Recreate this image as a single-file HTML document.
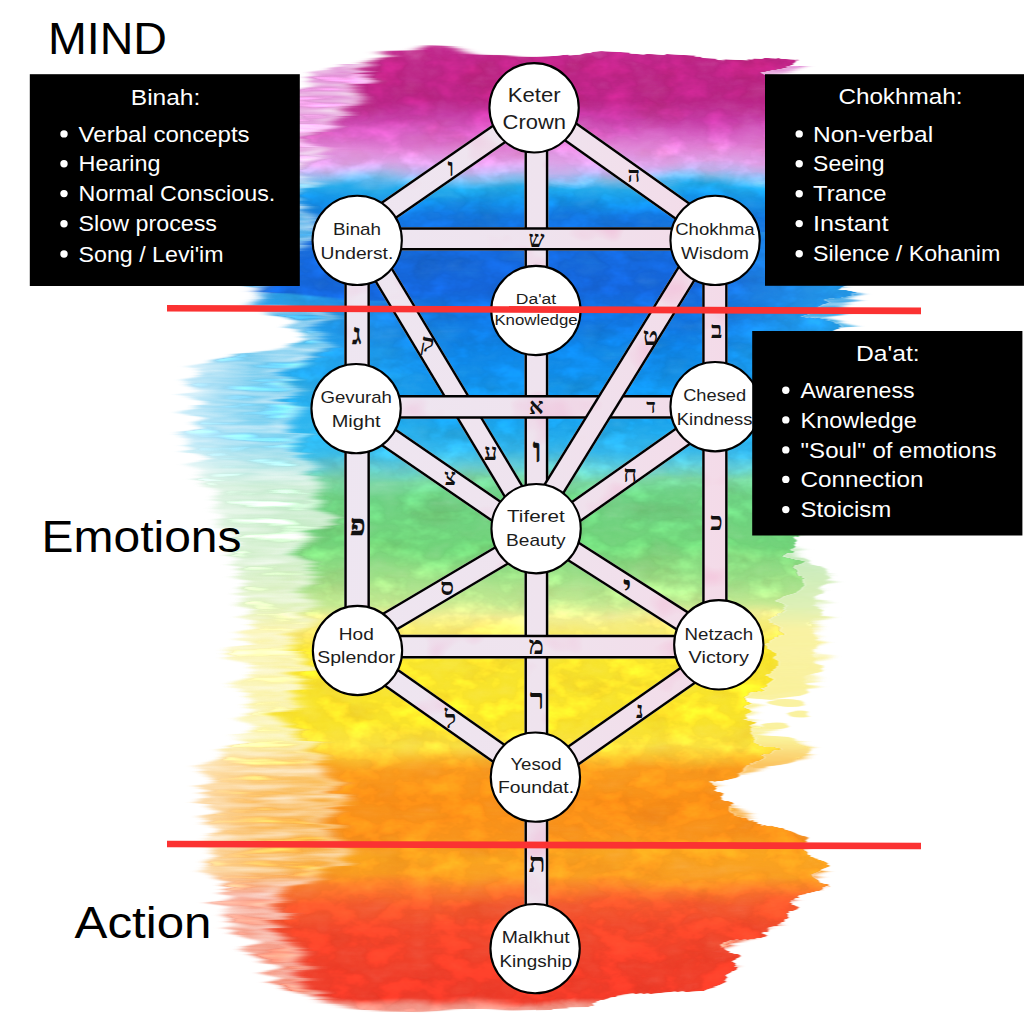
<!DOCTYPE html>
<html><head><meta charset="utf-8"><title>Tree of Life</title>
<style>
html,body{margin:0;padding:0;background:#fff;}
body{width:1024px;height:1024px;overflow:hidden;position:relative;font-family:"Liberation Sans", sans-serif;}
svg{position:absolute;left:0;top:0;display:block}
.sans{font-family:"Liberation Sans", sans-serif;}
.heb{font-family:"Liberation Serif", serif;font-weight:bold;fill:#111;stroke:#111;}
</style></head><body>
<svg width="1024" height="1024" viewBox="0 0 1024 1024">
<defs>

<linearGradient id="rb" gradientUnits="userSpaceOnUse" x1="0" y1="40" x2="0" y2="1012"><stop offset="0.0000" stop-color="#c42a92"/><stop offset="0.0309" stop-color="#bb2384"/><stop offset="0.0617" stop-color="#b92486"/><stop offset="0.0782" stop-color="#c43aa4"/><stop offset="0.0947" stop-color="#d45cc0"/><stop offset="0.1132" stop-color="#e087d8"/><stop offset="0.1265" stop-color="#dba0e6"/><stop offset="0.1358" stop-color="#bdb0ec"/><stop offset="0.1440" stop-color="#78bcee"/><stop offset="0.1523" stop-color="#1fa8ea"/><stop offset="0.1656" stop-color="#1290e6"/><stop offset="0.1811" stop-color="#1278e0"/><stop offset="0.2058" stop-color="#1468da"/><stop offset="0.2572" stop-color="#1464d8"/><stop offset="0.2860" stop-color="#1174e0"/><stop offset="0.3189" stop-color="#0e84e6"/><stop offset="0.3652" stop-color="#1294ea"/><stop offset="0.3992" stop-color="#1ca6ec"/><stop offset="0.4218" stop-color="#33b5ea"/><stop offset="0.4383" stop-color="#5fcbd6"/><stop offset="0.4527" stop-color="#78d4a0"/><stop offset="0.4691" stop-color="#6cd082"/><stop offset="0.5195" stop-color="#70d278"/><stop offset="0.5607" stop-color="#a4e088"/><stop offset="0.5802" stop-color="#c4e890"/><stop offset="0.5926" stop-color="#f0ee92"/><stop offset="0.6111" stop-color="#f8ea68"/><stop offset="0.6296" stop-color="#f7e42c"/><stop offset="0.7037" stop-color="#f8e228"/><stop offset="0.7243" stop-color="#f9e03e"/><stop offset="0.7377" stop-color="#f9bc2c"/><stop offset="0.7500" stop-color="#f99a1c"/><stop offset="0.7819" stop-color="#f88e16"/><stop offset="0.8210" stop-color="#f8921a"/><stop offset="0.8395" stop-color="#f9a41e"/><stop offset="0.8601" stop-color="#f99c20"/><stop offset="0.8745" stop-color="#f7782a"/><stop offset="0.8889" stop-color="#f3582c"/><stop offset="0.9105" stop-color="#f1482a"/><stop offset="0.9516" stop-color="#ef3e28"/><stop offset="0.9856" stop-color="#ee3a28"/><stop offset="0.9918" stop-color="#f2897a"/><stop offset="1.0000" stop-color="#f6b5a8"/></linearGradient>
<linearGradient id="rbh" gradientUnits="userSpaceOnUse" x1="0" y1="40" x2="0" y2="1012"><stop offset="0.0000" stop-color="#e08ed4"/><stop offset="0.1132" stop-color="#e6a0de"/><stop offset="0.1358" stop-color="#d6c0ee"/><stop offset="0.1502" stop-color="#7fcdf0"/><stop offset="0.1800" stop-color="#49ace8"/><stop offset="0.2675" stop-color="#3aa4e6"/><stop offset="0.3035" stop-color="#4ebaea"/><stop offset="0.4115" stop-color="#66caee"/><stop offset="0.4383" stop-color="#a8e2e2"/><stop offset="0.4588" stop-color="#c0e9cc"/><stop offset="0.5350" stop-color="#c8ebbe"/><stop offset="0.5823" stop-color="#dcf0b4"/><stop offset="0.6070" stop-color="#f9f2a2"/><stop offset="0.7202" stop-color="#faf096"/><stop offset="0.7459" stop-color="#fbc460"/><stop offset="0.7819" stop-color="#f9b044"/><stop offset="0.8539" stop-color="#f9ae42"/><stop offset="0.8796" stop-color="#f4876a"/><stop offset="0.9877" stop-color="#f27e66"/></linearGradient>
<linearGradient id="tl" gradientUnits="userSpaceOnUse" x1="290" y1="0" x2="450" y2="0"><stop offset="0" stop-color="#35c0f0" stop-opacity="0.6"/><stop offset="1" stop-color="#35c0f0" stop-opacity="0"/></linearGradient>
<linearGradient id="tr" gradientUnits="userSpaceOnUse" x1="690" y1="0" x2="860" y2="0"><stop offset="0" stop-color="#2cb4f0" stop-opacity="0"/><stop offset="1" stop-color="#2cb4f0" stop-opacity="0.7"/></linearGradient>
<clipPath id="cm"><polygon points="364,61 380,52 435,43 470,49 495,54 530,57 560,56 600,52 640,54 670,56 720,59 770,61 805,63 792,68 772,74 800,100 810,150 820,200 835,250 850,286 854,291 832,298 828,304 810,312 812,318 845,325 830,332 800,336 800,400 800,500 795,536 790,548 786,556 796,566 800,578 790,592 780,610 774,640 774,672 768,688 746,698 748,722 762,736 775,748 768,762 714,780 722,800 733,812 759,821 800,838 812,850 824,878 806,898 794,910 780,923 726,947 739,966 724,980 700,988 650,993 600,999 596,1007 500,1009 408,1009 350,1008 316,1004 304,988 292,960 280,940 270,920 276,897 300,884 330,866 338,842 338,800 332,772 304,757 288,720 290,680 294,640 302,600 310,550 314,500 310,470 292,440 284,400 284,366 316,346 320,316 250,304 246,291 256,284 300,250 300,186 300,130 342,124 354,96"/></clipPath>
<linearGradient id="hmg" gradientUnits="userSpaceOnUse" x1="180" y1="0" x2="310" y2="0"><stop offset="0" stop-color="#fff" stop-opacity="0.35"/><stop offset="0.55" stop-color="#fff" stop-opacity="0.8"/><stop offset="1" stop-color="#fff" stop-opacity="1"/></linearGradient>
<mask id="hm" maskUnits="userSpaceOnUse" x="0" y="0" width="1024" height="1024"><rect x="0" y="0" width="1024" height="1024" fill="url(#hmg)"/></mask>
<clipPath id="cl"><rect x="0" y="0" width="536" height="1024"/></clipPath>
<clipPath id="cr"><rect x="536" y="0" width="488" height="1024"/></clipPath>
<filter id="wcR" x="0" y="0" width="1024" height="1024" filterUnits="userSpaceOnUse" color-interpolation-filters="sRGB">
 <feTurbulence type="fractalNoise" baseFrequency="0.007 0.1" numOctaves="3" seed="7" result="n0"/><feColorMatrix in="n0" type="matrix" values="1 0 0 0 0  0 0 0 0 0.5  0 0 0 0 0.5  0 0 0 0 1" result="n"/>
 <feDisplacementMap in="SourceGraphic" in2="n" scale="40" xChannelSelector="R" yChannelSelector="G" result="d"/>
 <feTurbulence type="fractalNoise" baseFrequency="0.012 0.03" numOctaves="3" seed="11" result="m0"/>
 <feColorMatrix in="m0" type="matrix" values="0 0 0 0 0.5  0 1 0 0 0  0 0 0 0 0.5  0 0 0 0 1" result="m"/>
 <feDisplacementMap in="d" in2="m" scale="16" xChannelSelector="R" yChannelSelector="G" result="d2"/>
 <feGaussianBlur in="d2" stdDeviation="0.9 0.5" result="d3"/>
 <feTurbulence type="fractalNoise" baseFrequency="0.022 0.04" numOctaves="4" seed="21" result="g0"/>
 <feColorMatrix in="g0" type="matrix" values="0.08 0 0 0 0.96  0.2 0 0 0 0.9  0.24 0 0 0 0.88  0 0 0 0 1" result="g"/>
 <feBlend in="d3" in2="g" mode="multiply" result="mu"/>
 <feComposite in="mu" in2="d3" operator="in" result="d4"/>
 <feTurbulence type="fractalNoise" baseFrequency="0.03 0.05" numOctaves="4" seed="5" result="t0"/>
 <feColorMatrix in="t0" type="matrix" values="0 0 0 0 1  0 0 0 0 1  0 0 0 0 1  1 0 0 0 0" result="t"/>
 <feComposite in="d4" in2="t" operator="arithmetic" k1="0.42" k2="0.80" k3="0" k4="0"/>
</filter>
<filter id="wcL" x="0" y="0" width="1024" height="1024" filterUnits="userSpaceOnUse" color-interpolation-filters="sRGB">
 <feTurbulence type="fractalNoise" baseFrequency="0.005 0.11" numOctaves="3" seed="19" result="n0"/><feColorMatrix in="n0" type="matrix" values="1 0 0 0 0  0 0 0 0 0.5  0 0 0 0 0.5  0 0 0 0 1" result="n"/>
 <feDisplacementMap in="SourceGraphic" in2="n" scale="70" xChannelSelector="R" yChannelSelector="G" result="d"/>
 <feTurbulence type="fractalNoise" baseFrequency="0.012 0.03" numOctaves="3" seed="11" result="m0"/>
 <feColorMatrix in="m0" type="matrix" values="0 0 0 0 0.5  0 1 0 0 0  0 0 0 0 0.5  0 0 0 0 1" result="m"/>
 <feDisplacementMap in="d" in2="m" scale="16" xChannelSelector="R" yChannelSelector="G" result="d2"/>
 <feGaussianBlur in="d2" stdDeviation="9 0.5" result="d3"/>
 <feTurbulence type="fractalNoise" baseFrequency="0.022 0.04" numOctaves="4" seed="21" result="g0"/>
 <feColorMatrix in="g0" type="matrix" values="0.08 0 0 0 0.96  0.2 0 0 0 0.9  0.24 0 0 0 0.88  0 0 0 0 1" result="g"/>
 <feBlend in="d3" in2="g" mode="multiply" result="mu"/>
 <feComposite in="mu" in2="d3" operator="in" result="d4"/>
 <feTurbulence type="fractalNoise" baseFrequency="0.03 0.05" numOctaves="4" seed="5" result="t0"/>
 <feColorMatrix in="t0" type="matrix" values="0 0 0 0 1  0 0 0 0 1  0 0 0 0 1  1 0 0 0 0" result="t"/>
 <feComposite in="d4" in2="t" operator="arithmetic" k1="0.42" k2="0.80" k3="0" k4="0"/>
</filter>
<filter id="wchr" x="0" y="0" width="1024" height="1024" filterUnits="userSpaceOnUse" color-interpolation-filters="sRGB">
 <feTurbulence type="fractalNoise" baseFrequency="0.008 0.12" numOctaves="3" seed="41" result="n0"/><feColorMatrix in="n0" type="matrix" values="1 0 0 0 0  0 0 0 0 0.5  0 0 0 0 0.5  0 0 0 0 1" result="n"/>
 <feDisplacementMap in="SourceGraphic" in2="n" scale="30" xChannelSelector="R" yChannelSelector="G" result="d"/>
 <feGaussianBlur in="d" stdDeviation="1.6 0.6"/>
</filter>
<filter id="wch" x="0" y="0" width="1024" height="1024" filterUnits="userSpaceOnUse" color-interpolation-filters="sRGB">
 <feTurbulence type="fractalNoise" baseFrequency="0.006 0.13" numOctaves="3" seed="23" result="n0"/><feColorMatrix in="n0" type="matrix" values="1 0 0 0 0  0 0 0 0 0.5  0 0 0 0 0.5  0 0 0 0 1" result="n"/>
 <feDisplacementMap in="SourceGraphic" in2="n" scale="56" xChannelSelector="R" yChannelSelector="G" result="d"/>
 <feGaussianBlur in="d" stdDeviation="5 0.5" result="d3"/>
 <feTurbulence type="fractalNoise" baseFrequency="0.012 0.12" numOctaves="3" seed="31" result="t0"/>
 <feColorMatrix in="t0" type="matrix" values="0 0 0 0 1  0 0 0 0 1  0 0 0 0 1  1 0 0 0 0" result="t"/>
 <feComposite in="d3" in2="t" operator="arithmetic" k1="1.5" k2="0.15" k3="0" k4="0"/>
</filter>

<filter id="blotch" x="330" y="90" width="420" height="880" filterUnits="userSpaceOnUse" color-interpolation-filters="sRGB">
<feTurbulence type="fractalNoise" baseFrequency="0.014 0.018" numOctaves="3" seed="9" result="b0"/>
<feColorMatrix in="b0" type="matrix" values="0 0 0 0 1  -0.45 0 0 0 1.27  -0.22 0 0 0 1.13  0 0 0 0 1" result="b1"/>
<feComposite in="b1" in2="SourceGraphic" operator="in" result="b2"/>
<feBlend in="SourceGraphic" in2="b2" mode="multiply"/>
</filter>
<linearGradient id="pf" gradientUnits="userSpaceOnUse" x1="340" y1="0" x2="740" y2="0">
<stop offset="0" stop-color="#eee6f1"/><stop offset="0.5" stop-color="#efe3ee"/><stop offset="1" stop-color="#f4dae8"/>
</linearGradient>
</defs>
<rect width="1024" height="1024" fill="#fff"/>

<g mask="url(#hm)"><g filter="url(#wch)"><polygon points="345,64 800,66 770,76 840,250 850,292 840,326 800,336 800,530 795,540 800,560 828,574 826,582 818,596 816,640 820,672 808,688 770,694 750,700 752,724 780,738 813,748 800,760 760,768 714,780 715,800 750,822 790,840 815,878 770,925 720,950 720,980 600,998 320,1000 292,990 240,944 214,885 208,850 208,800 208,768 236,744 244,700 238,650 248,602 234,560 226,520 204,480 192,440 192,372 236,354 296,347 302,320 262,311 254,290 285,180 285,100 310,75" fill="url(#rbh)"/></g></g>
<g filter="url(#wchr)" fill="url(#rbh)" opacity="0.92"><polygon points="750,556 800,558 826,572 828,580 814,594 812,640 818,672 808,688 802,696 770,700 750,698"/><ellipse cx="786" cy="703" rx="20" ry="4"/><ellipse cx="796" cy="714" rx="11" ry="3.5"/><ellipse cx="778" cy="726" rx="14" ry="3.5"/><polygon points="750,735 780,737 814,747 802,759 760,768 750,768"/></g>
<g clip-path="url(#cl)"><g filter="url(#wcL)"><polygon points="364,61 380,52 435,43 470,49 495,54 530,57 560,56 600,52 640,54 670,56 720,59 770,61 805,63 792,68 772,74 800,100 810,150 820,200 835,250 850,286 854,291 832,298 828,304 810,312 812,318 845,325 830,332 800,336 800,400 800,500 795,536 790,548 786,556 796,566 800,578 790,592 780,610 774,640 774,672 768,688 746,698 748,722 762,736 775,748 768,762 714,780 722,800 733,812 759,821 800,838 812,850 824,878 806,898 794,910 780,923 726,947 739,966 724,980 700,988 650,993 600,999 596,1007 500,1009 408,1009 350,1008 316,1004 304,988 292,960 280,940 270,920 276,897 300,884 330,866 338,842 338,800 332,772 304,757 288,720 290,680 294,640 302,600 310,550 314,500 310,470 292,440 284,400 284,366 316,346 320,316 250,304 246,291 256,284 300,250 300,186 300,130 342,124 354,96" fill="url(#rb)"/><g clip-path="url(#cm)"><polygon points="250,296 450,300 450,462 250,456" fill="url(#tl)"/></g></g></g>
<g clip-path="url(#cr)"><g filter="url(#wcR)"><polygon points="364,61 380,52 435,43 470,49 495,54 530,57 560,56 600,52 640,54 670,56 720,59 770,61 805,63 792,68 772,74 800,100 810,150 820,200 835,250 850,286 854,291 832,298 828,304 810,312 812,318 845,325 830,332 800,336 800,400 800,500 795,536 790,548 786,556 796,566 800,578 790,592 780,610 774,640 774,672 768,688 746,698 748,722 762,736 775,748 768,762 714,780 722,800 733,812 759,821 800,838 812,850 824,878 806,898 794,910 780,923 726,947 739,966 724,980 700,988 650,993 600,999 596,1007 500,1009 408,1009 350,1008 316,1004 304,988 292,960 280,940 270,920 276,897 300,884 330,866 338,842 338,800 332,772 304,757 288,720 290,680 294,640 302,600 310,550 314,500 310,470 292,440 284,400 284,366 316,346 320,316 250,304 246,291 256,284 300,250 300,186 300,130 342,124 354,96" fill="url(#rb)"/><g clip-path="url(#cm)"><polygon points="690,230 870,230 870,462 690,456" fill="url(#tr)"/></g></g></g>

<g stroke-linecap="butt" filter="url(#blotch)">
<line x1="536.4" y1="107.8" x2="536.4" y2="948.6" stroke="#000" stroke-width="23.8"/><line x1="536.4" y1="107.8" x2="536.4" y2="948.6" stroke="url(#pf)" stroke-width="18.9"/>
<line x1="363" y1="240.4" x2="535.8" y2="528.5" stroke="#000" stroke-width="22.8"/><line x1="363" y1="240.4" x2="535.8" y2="528.5" stroke="url(#pf)" stroke-width="17.9"/>
<line x1="357.1" y1="240" x2="357.1" y2="650" stroke="#000" stroke-width="25.6"/><line x1="357.1" y1="240" x2="357.1" y2="650" stroke="url(#pf)" stroke-width="20.7"/>
<line x1="714.9" y1="240" x2="714.9" y2="645" stroke="#000" stroke-width="25.4"/><line x1="714.9" y1="240" x2="714.9" y2="645" stroke="url(#pf)" stroke-width="20.5"/>
<line x1="357" y1="238.9" x2="715" y2="238.9" stroke="#000" stroke-width="23.3"/><line x1="357" y1="238.9" x2="715" y2="238.9" stroke="url(#pf)" stroke-width="18.4"/>
<line x1="356" y1="406.9" x2="715" y2="406.9" stroke="#000" stroke-width="23.6"/><line x1="356" y1="406.9" x2="715" y2="406.9" stroke="url(#pf)" stroke-width="18.7"/>
<line x1="357" y1="646.6" x2="719" y2="646.6" stroke="#000" stroke-width="23.6"/><line x1="357" y1="646.6" x2="719" y2="646.6" stroke="url(#pf)" stroke-width="18.7"/>
<line x1="707" y1="240.4" x2="529.5" y2="528.5" stroke="#000" stroke-width="22.8"/><line x1="707" y1="240.4" x2="529.5" y2="528.5" stroke="url(#pf)" stroke-width="17.9"/>
<line x1="534.1" y1="109.6" x2="357.2" y2="232.2" stroke="#000" stroke-width="22.8"/><line x1="534.1" y1="109.6" x2="357.2" y2="232.2" stroke="url(#pf)" stroke-width="17.9"/>
<line x1="534.1" y1="106" x2="715.1" y2="234.2" stroke="#000" stroke-width="22.8"/><line x1="534.1" y1="106" x2="715.1" y2="234.2" stroke="url(#pf)" stroke-width="17.9"/>
<line x1="356" y1="415" x2="536" y2="538.5" stroke="#000" stroke-width="22.8"/><line x1="356" y1="415" x2="536" y2="538.5" stroke="url(#pf)" stroke-width="17.9"/>
<line x1="715" y1="413.6" x2="536" y2="539.8" stroke="#000" stroke-width="22.8"/><line x1="715" y1="413.6" x2="536" y2="539.8" stroke="url(#pf)" stroke-width="17.9"/>
<line x1="357.5" y1="640.8" x2="536" y2="535.1" stroke="#000" stroke-width="22.8"/><line x1="357.5" y1="640.8" x2="536" y2="535.1" stroke="url(#pf)" stroke-width="17.9"/>
<line x1="536" y1="527.6" x2="718.8" y2="644.2" stroke="#000" stroke-width="22.8"/><line x1="536" y1="527.6" x2="718.8" y2="644.2" stroke="url(#pf)" stroke-width="17.9"/>
<line x1="357.5" y1="654" x2="535.4" y2="779" stroke="#000" stroke-width="22.8"/><line x1="357.5" y1="654" x2="535.4" y2="779" stroke="url(#pf)" stroke-width="17.9"/>
<line x1="535.4" y1="782" x2="718.8" y2="653.6" stroke="#000" stroke-width="22.8"/><line x1="535.4" y1="782" x2="718.8" y2="653.6" stroke="url(#pf)" stroke-width="17.9"/>
</g>
<g class="heb">
<text x="447.4" y="175.8" font-size="25.9" stroke-width="0">ו</text>
<text x="627.6" y="182.2" font-size="22.0" stroke-width="0">ה</text>
<text x="528.6" y="247.1" font-size="22.6" stroke-width="0">ש</text>
<text x="351.9" y="343.5" font-size="28.8" stroke-width="0.35">ג</text>
<text x="420.3" y="351.6" font-size="24.9" stroke-width="0" transform="rotate(10 427 346.6)">ק</text>
<text x="711.0" y="337.5" font-size="23.5" stroke-width="0">ב</text>
<text x="642.8" y="345.0" font-size="25.5" stroke-width="0">ט</text>
<text x="529.0" y="413.8" font-size="22.6" stroke-width="0">א</text>
<text x="646.2" y="412.9" font-size="19.8" stroke-width="0">ד</text>
<text x="484.0" y="459.7" font-size="23.8" stroke-width="0">ע</text>
<text x="444.2" y="485.0" font-size="22.6" stroke-width="0">צ</text>
<text x="532.7" y="461.8" font-size="34.1" stroke-width="0.5">ו</text>
<text x="623.2" y="481.5" font-size="23.3" stroke-width="0">ח</text>
<text x="350.0" y="535.1" font-size="28.7" stroke-width="0.3">פ</text>
<text x="710.3" y="529.8" font-size="25.5" stroke-width="0">כ</text>
<text x="440.3" y="595.4" font-size="24.2" stroke-width="0">ס</text>
<text x="622.8" y="598.1" font-size="33.2" stroke-width="0">י</text>
<text x="528.8" y="654.3" font-size="25.4" stroke-width="0">מ</text>
<text x="529.7" y="708.6" font-size="29.4" stroke-width="0">ר</text>
<text x="444.8" y="727.7" font-size="24.6" stroke-width="0">ל</text>
<text x="636.1" y="717.5" font-size="23.4" stroke-width="0">נ</text>
<text x="528.8" y="872.3" font-size="27.3" stroke-width="0">ת</text>
</g>
<circle cx="534.1" cy="107.8" r="44.65" fill="#fff" stroke="#000" stroke-width="2.1"/>
<circle cx="357.2" cy="240.4" r="44.65" fill="#fff" stroke="#000" stroke-width="2.1"/>
<circle cx="715.1" cy="240.4" r="44.65" fill="#fff" stroke="#000" stroke-width="2.1"/>
<circle cx="535.9" cy="310.5" r="44.65" fill="#fff" stroke="#000" stroke-width="2.1"/>
<circle cx="356.1" cy="408.6" r="44.65" fill="#fff" stroke="#000" stroke-width="2.1"/>
<circle cx="715.1" cy="406.7" r="44.65" fill="#fff" stroke="#000" stroke-width="2.1"/>
<circle cx="536.1" cy="528.7" r="44.65" fill="#fff" stroke="#000" stroke-width="2.1"/>
<circle cx="357.5" cy="650.5" r="44.65" fill="#fff" stroke="#000" stroke-width="2.1"/>
<circle cx="718.8" cy="644.8" r="44.65" fill="#fff" stroke="#000" stroke-width="2.1"/>
<circle cx="535.4" cy="777.1" r="44.65" fill="#fff" stroke="#000" stroke-width="2.1"/>
<circle cx="535.1" cy="948.6" r="44.65" fill="#fff" stroke="#000" stroke-width="2.1"/>
<g class="sans" fill="#1c1c1c">
<text x="507.8" y="101.8" font-size="19.4" textLength="52.9" lengthAdjust="spacingAndGlyphs">Keter</text>
<text x="502.6" y="129.3" font-size="19.4" textLength="63.4" lengthAdjust="spacingAndGlyphs">Crown</text>
<text x="332.9" y="234.8" font-size="17" textLength="48.2" lengthAdjust="spacingAndGlyphs">Binah</text>
<text x="320.6" y="258.8" font-size="17" textLength="72.7" lengthAdjust="spacingAndGlyphs">Underst.</text>
<text x="675.2" y="234.8" font-size="17" textLength="79.5" lengthAdjust="spacingAndGlyphs">Chokhma</text>
<text x="681.0" y="258.8" font-size="17" textLength="67.9" lengthAdjust="spacingAndGlyphs">Wisdom</text>
<text x="515.8" y="303.5" font-size="14.7" textLength="40.4" lengthAdjust="spacingAndGlyphs">Da'at</text>
<text x="494.4" y="324.8" font-size="14.7" textLength="83.2" lengthAdjust="spacingAndGlyphs">Knowledge</text>
<text x="320.5" y="402.8" font-size="17" textLength="71.4" lengthAdjust="spacingAndGlyphs">Gevurah</text>
<text x="331.7" y="427.1" font-size="17" textLength="48.9" lengthAdjust="spacingAndGlyphs">Might</text>
<text x="683.2" y="401.3" font-size="17" textLength="62.9" lengthAdjust="spacingAndGlyphs">Chesed</text>
<text x="676.8" y="425.3" font-size="17" textLength="75.7" lengthAdjust="spacingAndGlyphs">Kindness</text>
<text x="507.0" y="522.1" font-size="17" textLength="57.7" lengthAdjust="spacingAndGlyphs">Tiferet</text>
<text x="506.1" y="546.1" font-size="17" textLength="59.5" lengthAdjust="spacingAndGlyphs">Beauty</text>
<text x="338.8" y="639.5" font-size="17" textLength="35.0" lengthAdjust="spacingAndGlyphs">Hod</text>
<text x="317.3" y="662.9" font-size="17" textLength="77.9" lengthAdjust="spacingAndGlyphs">Splendor</text>
<text x="684.6" y="639.5" font-size="17" textLength="68.5" lengthAdjust="spacingAndGlyphs">Netzach</text>
<text x="688.6" y="663" font-size="17" textLength="60.4" lengthAdjust="spacingAndGlyphs">Victory</text>
<text x="510.4" y="769.5" font-size="17" textLength="51.2" lengthAdjust="spacingAndGlyphs">Yesod</text>
<text x="497.9" y="793.3" font-size="17" textLength="76.2" lengthAdjust="spacingAndGlyphs">Foundat.</text>
<text x="501.7" y="943" font-size="17" textLength="67.9" lengthAdjust="spacingAndGlyphs">Malkhut</text>
<text x="499.5" y="966.8" font-size="17" textLength="72.4" lengthAdjust="spacingAndGlyphs">Kingship</text>
</g>
<g class="sans" fill="#000">
<text x="48" y="54" font-size="44" textLength="119" lengthAdjust="spacingAndGlyphs">MIND</text>
<text x="41.5" y="552" font-size="43.5" textLength="200" lengthAdjust="spacingAndGlyphs">Emotions</text>
<text x="74.5" y="938" font-size="43.5" textLength="137" lengthAdjust="spacingAndGlyphs">Action</text>
</g>
<line x1="167" y1="308.2" x2="921" y2="310.9" stroke="#fb3232" stroke-width="6.6"/>
<line x1="167" y1="844" x2="921" y2="846" stroke="#fb3232" stroke-width="6.6"/>
<g class="sans">
<rect x="29.8" y="74.2" width="270" height="211.8" fill="#000"/>
<g fill="#fff" font-size="22">
<text x="130.8" y="104.5" textLength="69.5" lengthAdjust="spacingAndGlyphs">Binah:</text>
<circle cx="64" cy="133.9" r="3.7"/>
<text x="78.6" y="141.5" textLength="171.0" lengthAdjust="spacingAndGlyphs">Verbal concepts</text>
<circle cx="64" cy="163.7" r="3.7"/>
<text x="78.6" y="171.3" textLength="82.0" lengthAdjust="spacingAndGlyphs">Hearing</text>
<circle cx="64" cy="193.6" r="3.7"/>
<text x="78.6" y="201.2" textLength="196.7" lengthAdjust="spacingAndGlyphs">Normal Conscious.</text>
<circle cx="64" cy="223.8" r="3.7"/>
<text x="78.6" y="231.4" textLength="138.4" lengthAdjust="spacingAndGlyphs">Slow process</text>
<circle cx="64" cy="254.0" r="3.7"/>
<text x="78.6" y="261.6" textLength="145.0" lengthAdjust="spacingAndGlyphs">Song / Levi'im</text>
</g>
<rect x="765" y="74.2" width="270" height="211.6" fill="#000"/>
<g fill="#fff" font-size="22">
<text x="838.4" y="103.8" textLength="124.0" lengthAdjust="spacingAndGlyphs">Chokhmah:</text>
<circle cx="799.2" cy="133.9" r="3.7"/>
<text x="813.1" y="141.5" textLength="120.0" lengthAdjust="spacingAndGlyphs">Non-verbal</text>
<circle cx="799.2" cy="163.7" r="3.7"/>
<text x="813.1" y="171.3" textLength="71.4" lengthAdjust="spacingAndGlyphs">Seeing</text>
<circle cx="799.2" cy="193.8" r="3.7"/>
<text x="813.1" y="201.4" textLength="73.3" lengthAdjust="spacingAndGlyphs">Trance</text>
<circle cx="799.2" cy="223.6" r="3.7"/>
<text x="813.1" y="231.2" textLength="75.5" lengthAdjust="spacingAndGlyphs">Instant</text>
<circle cx="799.2" cy="253.7" r="3.7"/>
<text x="813.1" y="261.3" textLength="187.3" lengthAdjust="spacingAndGlyphs">Silence / Kohanim</text>
</g>
<rect x="752.2" y="331" width="270.2" height="204.5" fill="#000"/>
<g fill="#fff" font-size="22">
<text x="856.0" y="360.5" textLength="63.7" lengthAdjust="spacingAndGlyphs">Da'at:</text>
<circle cx="785.8" cy="390.3" r="3.7"/>
<text x="800.6" y="397.9" textLength="114.0" lengthAdjust="spacingAndGlyphs">Awareness</text>
<circle cx="785.8" cy="419.9" r="3.7"/>
<text x="800.6" y="427.5" textLength="116.2" lengthAdjust="spacingAndGlyphs">Knowledge</text>
<circle cx="785.8" cy="449.9" r="3.7"/>
<text x="800.6" y="457.5" textLength="196.0" lengthAdjust="spacingAndGlyphs">&quot;Soul&quot; of emotions</text>
<circle cx="785.8" cy="479.4" r="3.7"/>
<text x="800.6" y="487" textLength="122.8" lengthAdjust="spacingAndGlyphs">Connection</text>
<circle cx="785.8" cy="509.6" r="3.7"/>
<text x="800.6" y="517.2" textLength="90.8" lengthAdjust="spacingAndGlyphs">Stoicism</text>
</g>
</g>
</svg>
</body></html>
